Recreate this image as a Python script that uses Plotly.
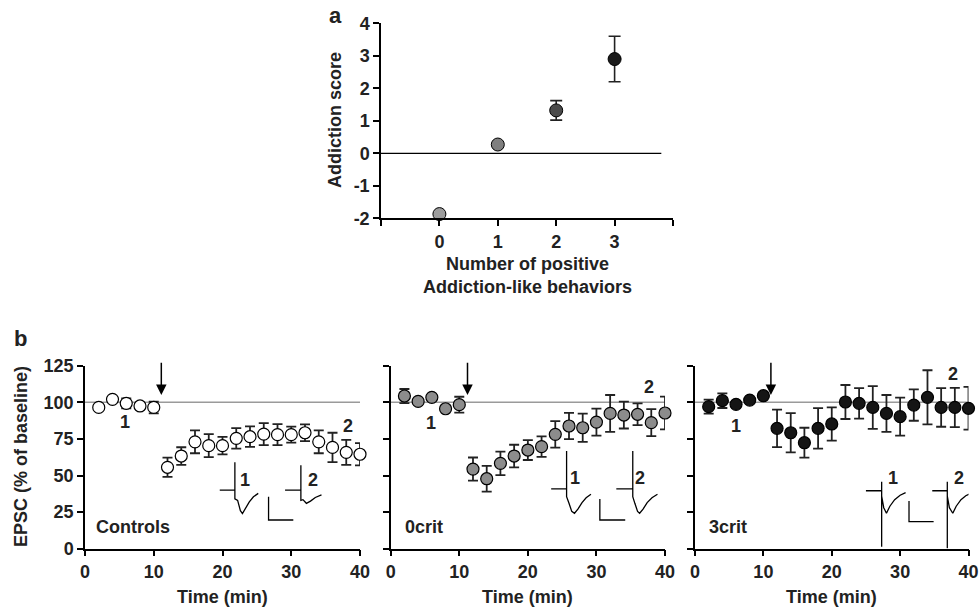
import plotly.graph_objects as go

# ---------------- data ----------------
# Panel a
a_x = [0, 1, 2, 3]
a_y = [-1.87, 0.27, 1.32, 2.9]
a_err = [0, 0, 0.3, 0.7]
a_colors = ["#9c9c9c", "#7f7f7f", "#4a4a4a", "#1a1a1a"]
a_xticks = [-1, 0, 1, 2, 3, 4]
a_xticktext = ["", "0", "1", "2", "3", ""]
a_yticks = [-2, -1, 0, 1, 2, 3, 4]
a_yticktext = ["-2", "-1", "0", "1", "2", "3", "4"]
a_zero_x = [-1, 3.8]
a_zero_y = [0, 0]

# Panel b
time = [2, 4, 6, 8, 10, 12, 14, 16, 18, 20, 22, 24, 26, 28, 30, 32, 34, 36, 38, 40]
ctrl_y = [96.5, 102, 99.3, 97.5, 96.5, 55.6, 63.3, 73, 70.4, 70.4, 75.4, 76.5, 78.3, 77.9, 77.9, 79.2, 73, 69.2, 65.8, 64.5]
ctrl_err = [0, 0, 3.4, 0, 4, 6.6, 6, 7.8, 7.8, 6, 7, 7, 7.5, 7.2, 5.5, 5.7, 7.8, 10, 8.5, 7.6]
zero_y = [104.3, 100.6, 103.4, 95.6, 98.4, 54.4, 47.8, 58.3, 63.3, 67.4, 69.7, 78.1, 83.8, 82.6, 86.5, 92.4, 91.3, 91.8, 86.1, 92.7]
zero_err = [4.8, 0, 0, 0, 5.4, 7.9, 8.8, 8, 7.7, 6.8, 7, 9, 9, 9.7, 9.2, 12.6, 9.2, 7.4, 9.2, 11.2]
three_y = [97, 101.1, 98.6, 101.5, 104.5, 82.2, 79.2, 72.4, 82.2, 85.2, 100.2, 99.3, 96.5, 92.4, 90.2, 98.1, 103.4, 96.5, 96.5, 95.9]
three_err = [4.8, 5, 0, 0, 0, 12.8, 13.4, 10.2, 13.8, 11.4, 11.6, 10.4, 14.6, 12.6, 13, 10.7, 18.5, 13.2, 13.4, 14.6]

b_xticks = [0, 10, 20, 30, 40]
b_yticks = [0, 25, 50, 75, 100, 125]
baseline_x = [0, 40]
baseline_y = [100, 100]
panel_names = ["Controls", "0crit", "3crit"]
arrow_time = [11.1, 11.2, 11.1]

# example EPSC traces (time-like x, amplitude-like y in panel units)
ctrl_tr1_x = [19.6, 21.8, 21.8, 21.8, 22.2, 22.6, 22.9, 23.3, 23.9, 24.5, 25.2]
ctrl_tr1_y = [40, 40, 59, 34, 33, 26, 24, 27, 32, 35.5, 37.8]
ctrl_tr2_x = [29.1, 31.4, 31.4, 31.4, 31.7, 32.2, 32.8, 33.5, 34.4]
ctrl_tr2_y = [40, 40, 57, 33, 33.5, 31, 32.5, 35, 36.7]
ctrl_bar_x = [26.7, 26.7, 30.3]
ctrl_bar_y = [35.5, 19.6, 19.6]

zero_tr1_x = [23.4, 25.65, 25.65, 25.65, 26.0, 26.4, 26.8, 27.3, 27.9, 28.5, 29.2]
zero_tr1_y = [40.8, 40.8, 66.7, 35.5, 31, 25.5, 24.2, 27, 31.5, 34.8, 37.2]
zero_tr2_x = [32.9, 35.3, 35.3, 35.3, 35.6, 36.0, 36.3, 36.8, 37.4, 38.1, 38.9]
zero_tr2_y = [40.8, 40.8, 66.7, 35.5, 31, 25.5, 24.2, 27, 31.5, 34.8, 37.2]
zero_bar_x = [30.5, 30.5, 34.2]
zero_bar_y = [34, 19.6, 19.6]

three_tr1_x = [25.0, 27.3, 27.3, 27.3, 27.3, 27.6, 28.0, 28.5, 29.2, 30.0, 30.8]
three_tr1_y = [39.6, 39.6, 45.8, 1.4, 36, 28, 24.2, 29, 33.5, 36.5, 38.3]
three_tr2_x = [34.7, 36.9, 36.9, 36.9, 36.9, 37.2, 37.7, 38.2, 38.9, 39.6, 40.3]
three_tr2_y = [39.6, 39.6, 45.8, 0.3, 36, 28, 24.2, 29, 33.5, 36.2, 37.6]
three_bar_x = [31.3, 31.3, 34.9]
three_bar_y = [32.6, 18.5, 18.5]

lbl1_pos = [(5.8, 86.3), (5.9, 86), (6.0, 84)]
lbl2_pos = [(38.3, 84), (37.6, 110.7), (37.8, 119.3)]
trace_lbl1 = [(23.3, 47), (26.9, 48), (28.9, 48)]
trace_lbl2 = [(33.2, 47), (36.3, 48), (38.6, 48)]

# ---------------- figure ----------------
FONT = "Liberation Sans, Arial, sans-serif"
FS = 18
W, H = 980, 607

def px(v):
    return v / W

def py(v):
    return 1 - v / H

fig = go.Figure()

# panel a
fig.add_trace(go.Scatter(x=a_zero_x, y=a_zero_y, mode="lines",
                         line=dict(color="black", width=1.3),
                         xaxis="x", yaxis="y", showlegend=False, hoverinfo="skip"))
fig.add_trace(go.Scatter(
    x=a_x, y=a_y, mode="markers",
    marker=dict(size=13, color=a_colors, line=dict(color="black", width=1)),
    error_y=dict(type="data", array=a_err, visible=True, color="#222", thickness=1.6, width=6),
    xaxis="x", yaxis="y", showlegend=False, cliponaxis=False))

# panel b
groups = [
    (ctrl_y, ctrl_err, "white", [(ctrl_tr1_x, ctrl_tr1_y), (ctrl_tr2_x, ctrl_tr2_y), (ctrl_bar_x, ctrl_bar_y)]),
    (zero_y, zero_err, "#8c8c8c", [(zero_tr1_x, zero_tr1_y), (zero_tr2_x, zero_tr2_y), (zero_bar_x, zero_bar_y)]),
    (three_y, three_err, "#151515", [(three_tr1_x, three_tr1_y), (three_tr2_x, three_tr2_y), (three_bar_x, three_bar_y)]),
]
for i, (yv, ev, col, traces) in enumerate(groups):
    xa = "x%d" % (i + 2)
    ya = "y%d" % (i + 2)
    fig.add_trace(go.Scatter(x=baseline_x, y=baseline_y, mode="lines",
                             line=dict(color="#9a9a9a", width=1.5),
                             xaxis=xa, yaxis=ya, showlegend=False, hoverinfo="skip"))
    for tx, ty in traces:
        fig.add_trace(go.Scatter(x=tx, y=ty, mode="lines",
                                 line=dict(color="black", width=1.3),
                                 xaxis=xa, yaxis=ya, showlegend=False, hoverinfo="skip"))
    fig.add_trace(go.Scatter(
        x=time, y=yv, mode="markers",
        marker=dict(size=12, color=col, line=dict(color="black", width=1.2)),
        error_y=dict(type="data", array=ev, visible=True, color="#222", thickness=1.8, width=5),
        xaxis=xa, yaxis=ya, showlegend=False, cliponaxis=False))

axis_common = dict(showline=True, linecolor="black", linewidth=1.5, ticks="outside",
                   ticklen=6, tickwidth=1.5, tickcolor="black", showgrid=False, zeroline=False,
                   automargin=False, ticklabeloverflow="allow",
                   tickfont=dict(family=FONT, size=FS, color="#222", weight="bold"))

layout = dict(
    width=W, height=H, margin=dict(l=0, r=0, t=0, b=0, pad=0, autoexpand=False),
    paper_bgcolor="white", plot_bgcolor="white",
    font=dict(family=FONT, size=FS, color="#222"),
    xaxis=dict(domain=[px(381), px(673)], range=[-1, 4], tickvals=a_xticks, ticktext=a_xticktext,
               anchor="y", **axis_common),
    yaxis=dict(domain=[py(218.3), py(23.3)], range=[-2, 4], tickvals=a_yticks, ticktext=a_yticktext,
               anchor="x", **axis_common),
)
xdoms = [(85, 360), (390.7, 665), (695, 968.5)]
for i, (l, r) in enumerate(xdoms):
    layout["xaxis%d" % (i + 2)] = dict(domain=[px(l), px(r)], range=[0, 40], tickvals=b_xticks,
                                       anchor="y%d" % (i + 2), **axis_common)
    layout["yaxis%d" % (i + 2)] = dict(domain=[py(548.7), py(365.7)], range=[0, 125], tickvals=b_yticks,
                                       showticklabels=(i == 0), anchor="x%d" % (i + 2), **axis_common)
fig.update_layout(**layout)

bold = lambda s: "<b>%s</b>" % s
ann = []
# panel a text
ann.append(dict(text=bold("a"), x=px(335), y=py(15), xref="paper", yref="paper", showarrow=False,
                font=dict(size=22), xanchor="center", yanchor="middle"))
ann.append(dict(text=bold("Addiction score"), x=px(335), y=py(120), xref="paper", yref="paper",
                showarrow=False, textangle=-90, xanchor="center", yanchor="middle"))
ann.append(dict(text=bold("Number of positive<br>Addiction-like behaviors"), x=px(527), y=py(275),
                xref="paper", yref="paper", showarrow=False, xanchor="center", yanchor="middle"))
# panel b text
ann.append(dict(text=bold("b"), x=px(20), y=py(338), xref="paper", yref="paper", showarrow=False,
                font=dict(size=22), xanchor="center", yanchor="middle"))
ann.append(dict(text=bold("EPSC (% of baseline)"), x=px(21), y=py(457), xref="paper", yref="paper",
                showarrow=False, textangle=-90, xanchor="center", yanchor="middle"))
for i, (l, r) in enumerate(xdoms):
    xa = "x%d" % (i + 2)
    ya = "y%d" % (i + 2)
    ann.append(dict(text=bold("Time (min)"), x=px((l + r) / 2), y=py(597), xref="paper", yref="paper",
                    showarrow=False, xanchor="center", yanchor="middle"))
    ann.append(dict(text=bold(panel_names[i]), x=1.3 + 0.5 * (i > 0), y=15, xref=xa, yref=ya,
                    showarrow=False, xanchor="left", yanchor="middle"))
    ann.append(dict(text="", x=arrow_time[i], y=105, ax=arrow_time[i], ay=128, xref=xa, yref=ya,
                    axref=xa, ayref=ya, showarrow=True, arrowhead=2, arrowsize=1.4,
                    arrowwidth=1.5, arrowcolor="black"))
    for (lx, ly), t in [(lbl1_pos[i], "1"), (lbl2_pos[i], "2"), (trace_lbl1[i], "1"), (trace_lbl2[i], "2")]:
        ann.append(dict(text=bold(t), x=lx, y=ly, xref=xa, yref=ya, showarrow=False,
                        xanchor="center", yanchor="middle"))
fig.update_layout(annotations=ann)

fig.write_html("out.html", config={"displayModeBar": False},
               post_script="document.body.style.margin='0';")
